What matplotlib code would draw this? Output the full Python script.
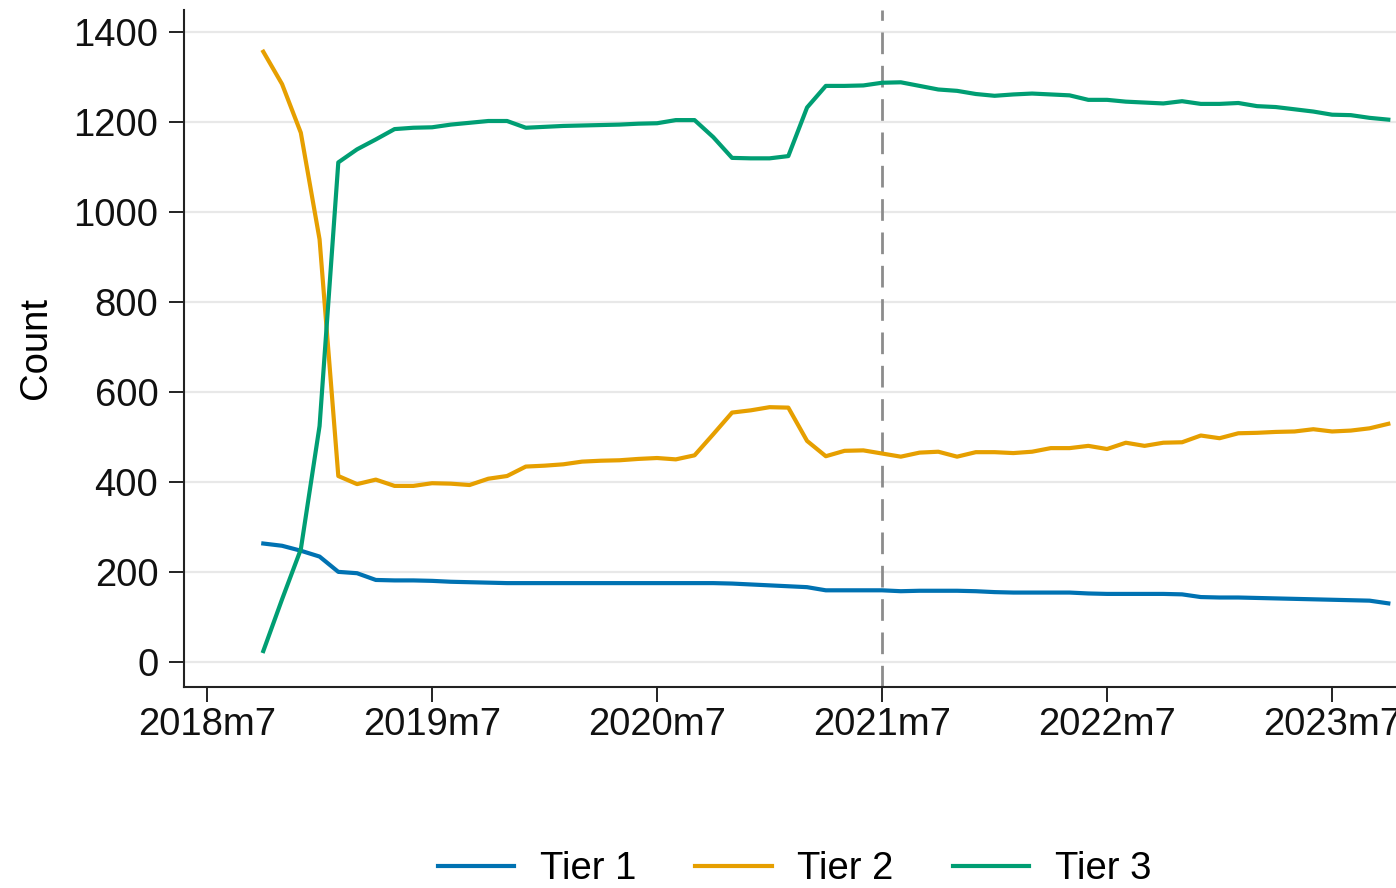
import numpy as np
import matplotlib
matplotlib.use("Agg")
import matplotlib.pyplot as plt

# ==========================================
# Monthly counts by tier, 2018m10 - 2023m10
# ==========================================
start_month = 3  # months after 2018m7
tier1 = [264, 259, 248, 235, 201, 198, 183, 182, 182, 181,
         179, 178, 177, 176, 176, 176, 176, 176, 176, 176,
         176, 176, 176, 176, 176, 175, 173, 171, 169, 167,
         160, 160, 160, 160, 158, 159, 159, 159, 158, 156,
         155, 155, 155, 155, 153, 152, 152, 152, 152, 151,
         145, 144, 144, 143, 142, 141, 140, 139, 138, 137,
         131]
tier2 = [1357, 1285, 1177, 940, 414, 396, 406, 392, 392, 398,
         397, 394, 408, 414, 435, 437, 440, 446, 448, 449,
         452, 454, 451, 460, 507, 555, 560, 567, 566, 492,
         458, 470, 471, 464, 457, 466, 468, 457, 467, 467,
         465, 468, 476, 476, 481, 474, 488, 481, 488, 489,
         504, 498, 509, 510, 512, 513, 518, 513, 515, 520,
         530]
tier3 = [25, 140, 251, 525, 1111, 1140, 1162, 1185, 1188, 1189,
         1195, 1199, 1203, 1203, 1188, 1190, 1192, 1193, 1194, 1195,
         1197, 1198, 1205, 1205, 1167, 1121, 1120, 1120, 1125, 1233,
         1281, 1281, 1282, 1288, 1289, 1281, 1273, 1270, 1263, 1259,
         1262, 1264, 1262, 1260, 1250, 1250, 1246, 1244, 1242, 1247,
         1241, 1241, 1243, 1236, 1234, 1229, 1224, 1217, 1216, 1210,
         1206]

tick_labels = ["2018m7", "2019m7", "2020m7", "2021m7", "2022m7", "2023m7"]
event_month = 36  # 2021m7
months = np.arange(start_month, start_month + len(tier1))

colors = {"Tier 1": "#0072B2", "Tier 2": "#E69F00", "Tier 3": "#009E73"}

# ==========================================
# Plot
# ==========================================
plt.rcParams["font.family"] = ["Liberation Sans", "DejaVu Sans"]
fig = plt.figure(figsize=(13.96, 8.88), dpi=100)
ax = fig.add_axes([0.1318, 0.2269, 0.8682, 0.7618])

for name, vals in [("Tier 1", tier1), ("Tier 2", tier2), ("Tier 3", tier3)]:
    ax.plot(months, vals, color=colors[name], lw=3.0, label=name,
            solid_joinstyle="round", zorder=3)

ax.axvline(event_month, color="#8c8c8c", lw=2.0, dashes=(7.8, 4.2), zorder=2)

ax.set_xlim(-1.23, 63.41)
ax.set_ylim(-53.8, 1449.6)
ax.set_xticks(np.arange(0, 12 * len(tick_labels), 12))
ax.set_xticklabels(tick_labels)
ax.set_yticks(np.arange(0, 1401, 200))
ax.yaxis.grid(True, color="#e8e8e8", lw=1.6)
ax.set_axisbelow(True)

for side in ["top", "right"]:
    ax.spines[side].set_visible(False)
for side in ["left", "bottom"]:
    ax.spines[side].set_linewidth(1.5)
    ax.spines[side].set_color("#222222")

ax.tick_params(axis="both", labelsize=27.5, length=10.5, width=1.4,
               color="#222222", labelcolor="#111111")
ax.tick_params(axis="y", pad=8)
ax.tick_params(axis="x", pad=4)
ax.set_ylabel("Count", fontsize=27.5, labelpad=14)

fig.legend(loc="center", bbox_to_anchor=(0.569, 0.021), ncol=3,
           frameon=False, fontsize=27.5, handlelength=2.0, handletextpad=0.67,
           columnspacing=1.55)

plt.savefig("out.png", dpi=100)
